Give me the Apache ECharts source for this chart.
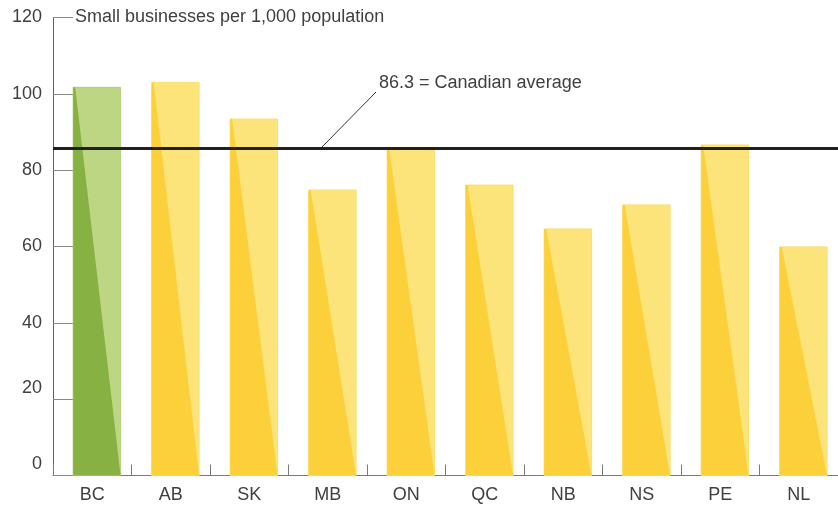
<!DOCTYPE html>
<html>
<head>
<meta charset="utf-8">
<script src="https://cdn.jsdelivr.net/npm/echarts@6/dist/echarts.min.js"></script>
<style>
html,body{margin:0;padding:0;background:#fff;}
#c{width:838px;height:508px;}
</style>
</head>
<body>
<div id="c"></div>
<script>
// ---- data ----
const CATEGORIES = ['BC','AB','SK','MB','ON','QC','NB','NS','PE','NL'];
const VALUES = [101.7, 103.0, 93.4, 74.8, 85.7, 76.1, 64.6, 70.9, 86.6, 59.9];
const HIGHLIGHT = ['BC'];
const AVG_LINE = 85.8;              // where the average line is drawn
const AVG_TEXT = '86.3 = Canadian average';
const Y_TITLE = 'Small businesses per 1,000 population';
const Y_MIN = 0, Y_MAX = 120, Y_STEP = 20;
const SHIFTED_LABELS = [0, 20];     // tick labels drawn raised above their tick

const FONT = '"Liberation Sans", Arial, sans-serif';
const TXT = '#404040';

const chart = echarts.init(document.getElementById('c'), null, {renderer:'canvas'});

const option = {
  animation: false,
  backgroundColor: '#ffffff',
  grid: { left: 53, top: 17.5, width: 790, height: 458, containLabel: false },
  xAxis: {
    type: 'category',
    data: CATEGORIES,
    boundaryGap: true,
    axisLine: { show: true, lineStyle: { color: '#7a7a7a', width: 1 } },
    axisTick: { show: true, inside: true, length: 11, lineStyle: { color: '#7a7a7a', width: 1 } },
    axisLabel: { color: TXT, fontFamily: FONT, fontSize: 18, margin: 11 },
    splitLine: { show: false }
  },
  yAxis: {
    type: 'value',
    min: Y_MIN, max: Y_MAX, interval: Y_STEP,
    axisLine: { show: true, lineStyle: { color: '#606060', width: 1 } },
    axisTick: { show: true, inside: true, length: 20, lineStyle: { color: '#8a8a8a', width: 1 } },
    splitLine: { show: false },
    axisLabel: {
      color: TXT, fontFamily: FONT, fontSize: 18, margin: 11,
      formatter: function (v) {
        return SHIFTED_LABELS.indexOf(v) >= 0 ? '{up|' + v + '}' : '{n|' + v + '}';
      },
      rich: {
        n: { color: TXT, fontFamily: FONT, fontSize: 18 },
        up: { color: TXT, fontFamily: FONT, fontSize: 18, padding: [0, 0, 22, 0] }
      }
    }
  },
  series: [{
    type: 'custom',
    data: VALUES.map((v, i) => [i, v]),
    encode: { x: 0, y: 1 },
    z: 2,
    renderItem: function (params, api) {
      const i = api.value(0), v = api.value(1);
      const top = api.coord([i, v]);
      const base = api.coord([i, 0]);
      const cw = api.size([1, 0])[0];
      const w = cw * 0.604;
      const off = cw * 0.059;
      const l = top[0] - w / 2 + off;
      const r = l + w;
      const hi = HIGHLIGHT.indexOf(CATEGORIES[i]) >= 0;
      const light = hi ? '#bdd684' : '#fde47a';
      const dark = hi ? '#88b143' : '#fbd03a';
      const edge = hi ? '#b3cf77' : '#fbdf6c';
      return {
        type: 'group',
        children: [
          { type: 'rect', shape: { x: l, y: top[1], width: w, height: base[1] - top[1] },
            style: { fill: light, stroke: edge, lineWidth: 1 } },
          { type: 'polygon', shape: { points: [[l, top[1]], [l + 2, top[1]], [r, base[1]], [l, base[1]]] },
            style: { fill: dark } }
        ]
      };
    },
    markLine: {
      silent: true,
      symbol: ['none', 'none'],
      label: { show: false },
      lineStyle: { color: '#231f20', width: 3, type: 'solid', opacity: 1 },
      data: [{ yAxis: AVG_LINE }]
    }
  }]
};
chart.setOption(option);

// annotations positioned from the axes
const yAvg = chart.convertToPixel({ yAxisIndex: 0 }, AVG_LINE);
const yTop = chart.convertToPixel({ yAxisIndex: 0 }, Y_MAX);
chart.setOption({
  graphic: [
    { type: 'text', left: 75, top: yTop - 9,
      style: { text: Y_TITLE, fill: TXT, font: '18px ' + FONT } },
    { type: 'line', shape: { x1: 321, y1: yAvg, x2: 376, y2: yAvg - 56 },
      style: { stroke: '#333333', lineWidth: 1 } },
    { type: 'text', left: 379, top: yAvg - 74,
      style: { text: AVG_TEXT, fill: TXT, font: '18px ' + FONT } }
  ]
});
</script>
</body>
</html>
